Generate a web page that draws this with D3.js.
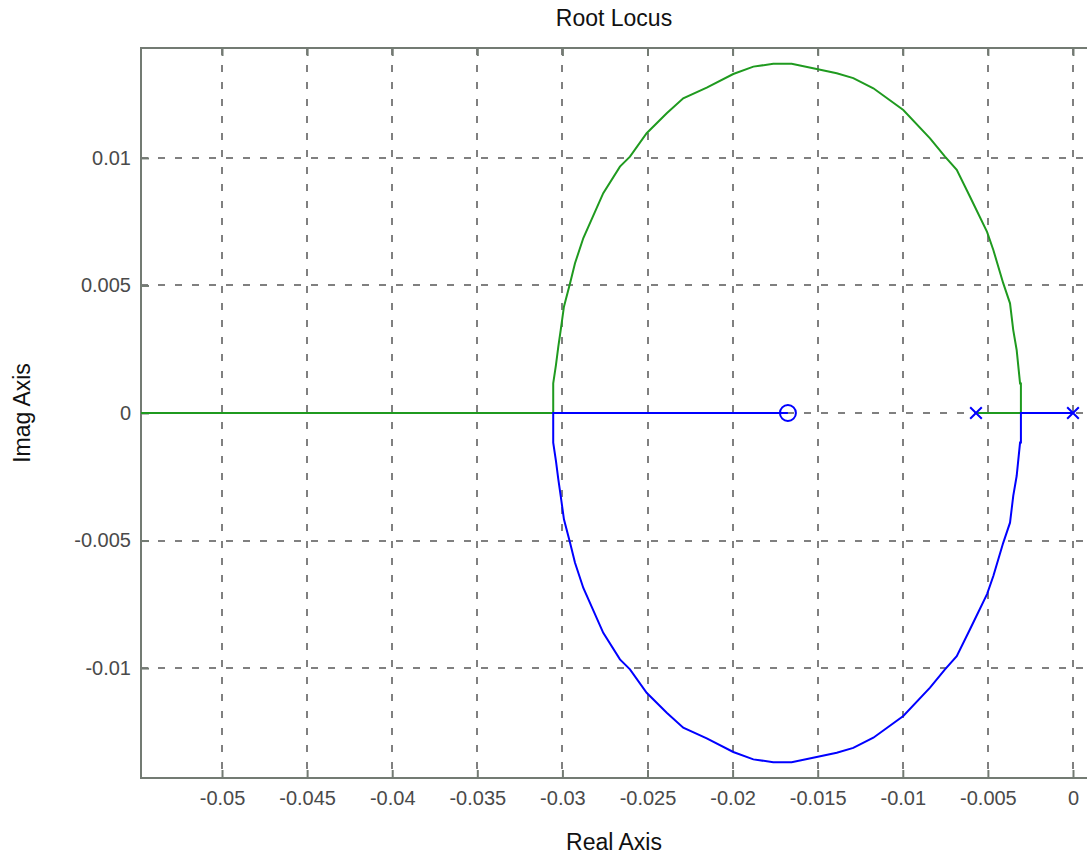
<!DOCTYPE html>
<html>
<head>
<meta charset="utf-8">
<script src="https://cdn.jsdelivr.net/npm/d3@7"></script>
<style>
  body { margin: 0; background: #fff; }
  text { font-family: "Liberation Sans", Arial, sans-serif; }
</style>
</head>
<body>
<script>
// root locus values
var xTicks = [-0.05, -0.045, -0.04, -0.035, -0.03, -0.025, -0.02, -0.015, -0.01, -0.005, 0];
var yTicks = [0.01, 0.005, 0, -0.005, -0.01];
var xTickLabels = ['-0.05', '-0.045', '-0.04', '-0.035', '-0.03', '-0.025', '-0.02', '-0.015', '-0.01', '-0.005', '0'];
var yTickLabels = ['0.01', '0.005', '0', '-0.005', '-0.01'];

var poles = [-0.0057, 0];
var zeros = [-0.01675];

// upper branch (green): pole -0.0057 -> breakaway -> arc -> break-in -> -inf
var greenRe = [-0.0057, -0.00306, -0.00306, -0.00311, -0.00331, -0.00351, -0.0037, -0.0041, -0.00468, -0.00505,
  -0.00605, -0.00683, -0.00752, -0.0084, -0.00997, -0.01173, -0.01291, -0.01388, -0.01506, -0.01653,
  -0.01761, -0.01878, -0.01996, -0.02152, -0.0229, -0.02387, -0.02505, -0.02603, -0.02662, -0.0276,
  -0.02877, -0.02926, -0.02955, -0.02991, -0.0301, -0.03024, -0.03038, -0.03054, -0.03054, -0.06];
var greenIm = [0, 0, 0.00116, 0.00116, 0.00247, 0.00325, 0.0043, 0.00509, 0.00639, 0.0071,
  0.00848, 0.00953, 0.01005, 0.01077, 0.01188, 0.01273, 0.01313, 0.01332, 0.01349, 0.01369,
  0.01369, 0.01358, 0.01329, 0.01276, 0.01234, 0.01175, 0.01097, 0.01005, 0.00966, 0.00862,
  0.00686, 0.00587, 0.00509, 0.00417, 0.00325, 0.0026, 0.00188, 0.00116, 0, 0];

// lower branch (blue): pole 0 -> breakaway -> arc -> break-in -> zero
var blueRe = [0, -0.00306, -0.00306, -0.00311, -0.00331, -0.00351, -0.0037, -0.0041, -0.00468, -0.00505,
  -0.00605, -0.00683, -0.00752, -0.0084, -0.00997, -0.01173, -0.01291, -0.01388, -0.01506, -0.01653,
  -0.01761, -0.01878, -0.01996, -0.02152, -0.0229, -0.02387, -0.02505, -0.02603, -0.02662, -0.0276,
  -0.02877, -0.02926, -0.02955, -0.02991, -0.0301, -0.03024, -0.03038, -0.03054, -0.03054, -0.01675];
var blueIm = [0, 0, -0.00116, -0.00116, -0.00247, -0.00325, -0.0043, -0.00509, -0.00639, -0.0071,
  -0.00848, -0.00953, -0.01005, -0.01077, -0.01188, -0.01273, -0.01313, -0.01332, -0.01349, -0.01369,
  -0.01369, -0.01358, -0.01329, -0.01276, -0.01234, -0.01175, -0.01097, -0.01005, -0.00966, -0.00862,
  -0.00686, -0.00587, -0.00509, -0.00417, -0.00325, -0.0026, -0.00188, -0.00116, 0, 0];

var W = 1087, H = 854;
var pL = 141, pR = 1087, pT = 48, pB = 778;

var svg = d3.select('body').append('svg')
    .attr('width', W)
    .attr('height', H);

var x = d3.scaleLinear().domain([-0.05476, 0.000823]).range([pL, pR]);
var y = d3.scaleLinear().domain([-0.01431, 0.01431]).range([pB, pT]);

var gridColor = '#808080';
var axisColor = '#737b73';
var textColor = '#4a4a4a';

svg.append('clipPath').attr('id', 'clip')
  .append('rect')
    .attr('x', pL).attr('y', pT)
    .attr('width', pR - pL).attr('height', pB - pT);

// grid
var grid = svg.append('g');
grid.selectAll('.gx').data(xTicks).enter().append('line')
    .attr('x1', function(d) { return Math.round(x(d)); })
    .attr('x2', function(d) { return Math.round(x(d)); })
    .attr('y1', pT).attr('y2', pB)
    .style('stroke', gridColor).style('stroke-width', 2)
    .style('stroke-dasharray', '7,10');
grid.selectAll('.gy').data(yTicks).enter().append('line')
    .attr('y1', function(d) { return Math.round(y(d)); })
    .attr('y2', function(d) { return Math.round(y(d)); })
    .attr('x1', pL).attr('x2', pR)
    .style('stroke', gridColor).style('stroke-width', 2)
    .style('stroke-dasharray', '7,10');

// axes with inward ticks
var xAxisB = d3.axisBottom(x).tickValues(xTicks).tickSize(-8).tickFormat(function(d, i) { return xTickLabels[i]; });
var xAxisT = d3.axisTop(x).tickValues(xTicks).tickSize(-8).tickFormat('');
var yAxisL = d3.axisLeft(y).tickValues(yTicks).tickSize(-8).tickFormat(function(d, i) { return yTickLabels[i]; });

function styleAxis(g) {
  g.select('.domain').remove();
  g.selectAll('.tick line').style('stroke', axisColor).style('stroke-width', 2);
  g.selectAll('.tick text')
    .style('fill', textColor)
    .style('font-size', '20px')
    .style('font-family', '"Liberation Sans", Arial, sans-serif');
}

var gb = svg.append('g').attr('transform', 'translate(0,' + pB + ')').call(xAxisB);
styleAxis(gb);
gb.selectAll('.tick text').attr('y', 13);
var gt = svg.append('g').attr('transform', 'translate(0,' + pT + ')').call(xAxisT);
styleAxis(gt);
var gl = svg.append('g').attr('transform', 'translate(' + pL + ',0)').call(yAxisL);
styleAxis(gl);
gl.selectAll('.tick text').attr('x', -10);

// frame
svg.append('rect')
    .attr('x', pL).attr('y', pT)
    .attr('width', pR - pL + 4).attr('height', pB - pT)
    .style('fill', 'none').style('stroke', axisColor).style('stroke-width', 2);

// locus branches
var line = d3.line()
    .x(function(d) { return x(d[0]); })
    .y(function(d) { return y(d[1]); });

var plot = svg.append('g').attr('clip-path', 'url(#clip)');

plot.append('path')
    .attr('d', line(d3.zip(greenRe, greenIm)))
    .style('fill', 'none').style('stroke', '#1f9a1f').style('stroke-width', 2);
plot.append('path')
    .attr('d', line(d3.zip(blueRe, blueIm)))
    .style('fill', 'none').style('stroke', '#0000ff').style('stroke-width', 2);

// zeros
plot.selectAll('.zero').data(zeros).enter().append('circle')
    .attr('cx', function(d) { return x(d); })
    .attr('cy', y(0))
    .attr('r', 8)
    .style('fill', 'none').style('stroke', '#0000ff').style('stroke-width', 2);

// poles
var cross = d3.symbol().type(d3.symbolX).size(90);
plot.selectAll('.pole').data(poles).enter().append('path')
    .attr('d', cross)
    .attr('transform', function(d) { return 'translate(' + x(d) + ',' + y(0) + ')'; })
    .style('fill', 'none').style('stroke', '#0000ff').style('stroke-width', 2);

// labels
svg.append('text')
    .attr('x', (pL + pR) / 2).attr('y', 26)
    .attr('text-anchor', 'middle')
    .style('font-size', '23px').style('fill', '#111')
    .text('Root Locus');
svg.append('text')
    .attr('x', (pL + pR) / 2).attr('y', 850)
    .attr('text-anchor', 'middle')
    .style('font-size', '23px').style('fill', '#111')
    .text('Real Axis');
svg.append('text')
    .attr('transform', 'translate(30,' + y(0) + ') rotate(-90)')
    .attr('text-anchor', 'middle')
    .style('font-size', '23px').style('fill', '#111')
    .text('Imag Axis');
</script>
</body>
</html>
